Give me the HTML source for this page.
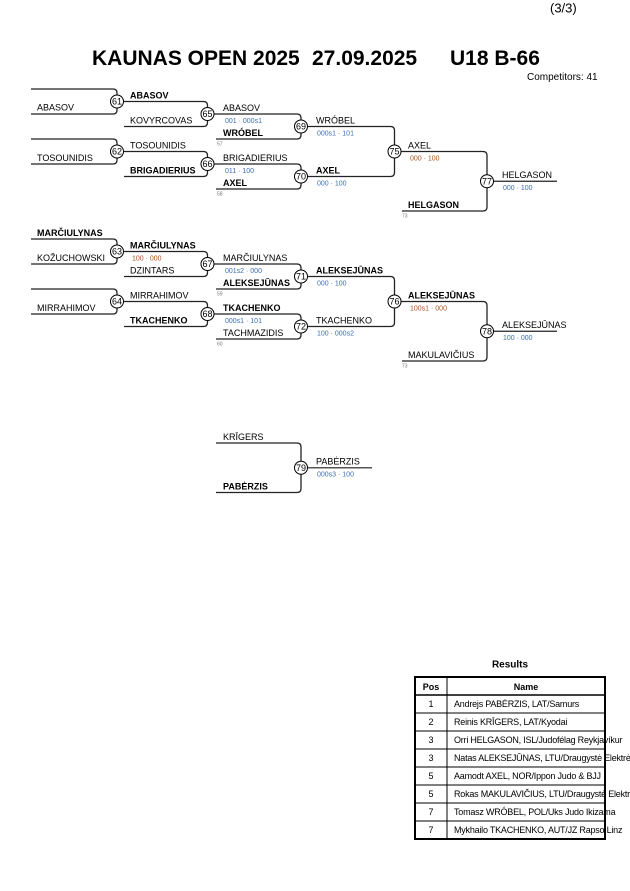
<!DOCTYPE html>
<html><head><meta charset="utf-8"><style>
html,body{margin:0;padding:0;background:#fff;}
body{width:630px;height:891px;overflow:hidden;}
svg{display:block;font-family:"Liberation Sans",Arial,sans-serif;}
.n{font-size:9px;fill:#000;}
.b{font-size:9px;font-weight:bold;fill:#000;}
.s{font-size:7px;}
.bl{fill:#3b6eb5;}
.br{fill:#a5531f;}
.sm{font-size:5px;fill:#777;}
.c{font-size:9px;fill:#000;text-anchor:middle;}
.ln{fill:none;stroke:#222;stroke-width:1.3;}
.t{font-size:9px;letter-spacing:-0.22px;fill:#000;}
</style></head><body>
<svg width="630" height="891" viewBox="0 0 630 891" xmlns="http://www.w3.org/2000/svg">
<!-- header -->
<text x="550" y="12.5" font-size="13" fill="#000">(3/3)</text>
<text x="92" y="65" font-size="21" font-weight="bold" fill="#000">KAUNAS OPEN 2025</text>
<text x="312" y="65" font-size="21" font-weight="bold" fill="#000">27.09.2025</text>
<text x="450" y="65" font-size="21" font-weight="bold" fill="#000">U18 B-66</text>
<text x="527" y="80" font-size="10" fill="#000">Competitors: 41</text>

<!-- bracket lines -->
<g class="ln">
<path d="M31 89 H113 Q117 89 117 93 V110 Q117 114 113 114 H31"/>
<path d="M123.5 101.5 H203.5 Q207.5 101.5 207.5 105.5 V122.5 Q207.5 126.5 203.5 126.5 H124"/>
<path d="M214 114 H297 Q301 114 301 118 V135 Q301 139 297 139 H216"/>
<path d="M31 139 H113 Q117 139 117 143 V160 Q117 164 113 164 H31"/>
<path d="M123.5 151.5 H203.5 Q207.5 151.5 207.5 155.5 V172.5 Q207.5 176.5 203.5 176.5 H124"/>
<path d="M214 164 H297 Q301 164 301 168 V185 Q301 189 297 189 H216"/>
<path d="M307.5 126.5 H390.5 Q394.5 126.5 394.5 130.5 V172.5 Q394.5 176.5 390.5 176.5 H307.5"/>
<path d="M401 151.5 H483 Q487 151.5 487 155.5 V207 Q487 211 483 211 H402"/>
<path d="M493.5 181.25 H557"/>

<path d="M31 239 H113 Q117 239 117 243 V260 Q117 264 113 264 H31"/>
<path d="M123.5 251.5 H203.5 Q207.5 251.5 207.5 255.5 V272.5 Q207.5 276.5 203.5 276.5 H124"/>
<path d="M214 264 H297 Q301 264 301 268 V285 Q301 289 297 289 H216"/>
<path d="M31 289 H113 Q117 289 117 293 V310 Q117 314 113 314 H31"/>
<path d="M123.5 301.5 H203.5 Q207.5 301.5 207.5 305.5 V322.5 Q207.5 326.5 203.5 326.5 H124"/>
<path d="M214 314 H297 Q301 314 301 318 V335 Q301 339 297 339 H216"/>
<path d="M307.5 276.5 H390.5 Q394.5 276.5 394.5 280.5 V322.5 Q394.5 326.5 390.5 326.5 H307.5"/>
<path d="M401 301.5 H483 Q487 301.5 487 305.5 V357 Q487 361 483 361 H402"/>
<path d="M493.5 331.25 H557"/>

<path d="M216 443 H297 Q301 443 301 447 V488.5 Q301 492.5 297 492.5 H216"/>
<path d="M307.5 467.75 H372" stroke="#555" stroke-width="1.6"/>
</g>

<!-- circles -->
<g fill="#fff" stroke="#000" stroke-width="1">
<circle cx="117" cy="101.5" r="6.5"/>
<circle cx="207.5" cy="114" r="6.5"/>
<circle cx="301" cy="126.5" r="6.5"/>
<circle cx="117" cy="151.5" r="6.5"/>
<circle cx="207.5" cy="164" r="6.5"/>
<circle cx="301" cy="176.5" r="6.5"/>
<circle cx="394.5" cy="151.5" r="6.5"/>
<circle cx="487" cy="181.25" r="6.5"/>
<circle cx="117" cy="251.5" r="6.5"/>
<circle cx="207.5" cy="264" r="6.5"/>
<circle cx="301" cy="276.5" r="6.5"/>
<circle cx="117" cy="301.5" r="6.5"/>
<circle cx="207.5" cy="314" r="6.5"/>
<circle cx="301" cy="326.5" r="6.5"/>
<circle cx="394.5" cy="301.5" r="6.5"/>
<circle cx="487" cy="331.25" r="6.5"/>
<circle cx="301" cy="467.75" r="6.5"/>
</g>
<g>
<text class="c" x="117" y="104.7">61</text>
<text class="c" x="207.5" y="117.2">65</text>
<text class="c" x="301" y="129.7">69</text>
<text class="c" x="117" y="154.7">62</text>
<text class="c" x="207.5" y="167.2">66</text>
<text class="c" x="301" y="179.7">70</text>
<text class="c" x="394.5" y="154.7">75</text>
<text class="c" x="487" y="184.5">77</text>
<text class="c" x="117" y="254.7">63</text>
<text class="c" x="207.5" y="267.2">67</text>
<text class="c" x="301" y="279.7">71</text>
<text class="c" x="117" y="304.7">64</text>
<text class="c" x="207.5" y="317.2">68</text>
<text class="c" x="301" y="329.7">72</text>
<text class="c" x="394.5" y="304.7">76</text>
<text class="c" x="487" y="334.5">78</text>
<text class="c" x="301" y="471">79</text>
</g>

<!-- names block 1 -->
<text class="n" x="37" y="110.5">ABASOV</text>
<text class="b" x="130" y="98.5">ABASOV</text>
<text class="n" x="130" y="123.5">KOVYRCOVAS</text>
<text class="n" x="223" y="111">ABASOV</text>
<text class="s bl" x="225" y="123">001 · 000s1</text>
<text class="b" x="223" y="136">WRÓBEL</text>
<text class="sm" x="217" y="145.5">57</text>
<text class="n" x="37" y="161">TOSOUNIDIS</text>
<text class="n" x="130" y="148.5">TOSOUNIDIS</text>
<text class="b" x="130" y="173.5">BRIGADIERIUS</text>
<text class="n" x="223" y="161">BRIGADIERIUS</text>
<text class="s bl" x="225" y="173">011 · 100</text>
<text class="b" x="223" y="186">AXEL</text>
<text class="sm" x="217" y="195.5">58</text>
<text class="n" x="316" y="123.5">WRÓBEL</text>
<text class="s bl" x="317" y="135.5">000s1 · 101</text>
<text class="b" x="316" y="173.5">AXEL</text>
<text class="s bl" x="317" y="185.5">000 · 100</text>
<text class="n" x="408" y="148.5">AXEL</text>
<text class="s br" x="410" y="160.5">000 · 100</text>
<text class="b" x="408" y="208">HELGASON</text>
<text class="sm" x="402" y="217.5">73</text>
<text class="n" x="502" y="178">HELGASON</text>
<text class="s bl" x="503" y="190">000 · 100</text>

<!-- names block 2 -->
<text class="b" x="37" y="236">MARČIULYNAS</text>
<text class="n" x="37" y="261">KOŽUCHOWSKI</text>
<text class="b" x="130" y="248.5">MARČIULYNAS</text>
<text class="s br" x="132" y="260.5">100 · 000</text>
<text class="n" x="130" y="273.5">DZINTARS</text>
<text class="n" x="223" y="261">MARČIULYNAS</text>
<text class="s bl" x="225" y="273">001s2 · 000</text>
<text class="b" x="223" y="286">ALEKSEJŪNAS</text>
<text class="sm" x="217" y="295.5">59</text>
<text class="n" x="37" y="311">MIRRAHIMOV</text>
<text class="n" x="130" y="298.5">MIRRAHIMOV</text>
<text class="b" x="130" y="323.5">TKACHENKO</text>
<text class="b" x="223" y="311">TKACHENKO</text>
<text class="s bl" x="225" y="323">000s1 · 101</text>
<text class="n" x="223" y="336">TACHMAZIDIS</text>
<text class="sm" x="217" y="345.5">60</text>
<text class="b" x="316" y="273.5">ALEKSEJŪNAS</text>
<text class="s bl" x="317" y="285.5">000 · 100</text>
<text class="n" x="316" y="323.5">TKACHENKO</text>
<text class="s bl" x="317" y="335.5">100 · 000s2</text>
<text class="b" x="408" y="298.5">ALEKSEJŪNAS</text>
<text class="s br" x="410" y="310.5">100s1 · 000</text>
<text class="n" x="408" y="358">MAKULAVIČIUS</text>
<text class="sm" x="402" y="367.5">73</text>
<text class="n" x="502" y="328">ALEKSEJŪNAS</text>
<text class="s bl" x="503" y="340">100 · 000</text>

<!-- block 3 -->
<text class="n" x="223" y="440">KRĪGERS</text>
<text class="b" x="223" y="489.5">PABĖRZIS</text>
<text class="n" x="316" y="464.5">PABĖRZIS</text>
<text class="s bl" x="317" y="476.5">000s3 · 100</text>

<!-- results -->
<text x="510" y="667.5" font-size="10" font-weight="bold" text-anchor="middle" fill="#000">Results</text>
<g stroke="#000" fill="none">
<line x1="415" y1="713" x2="605" y2="713" stroke-width="1"/>
<line x1="415" y1="731" x2="605" y2="731" stroke-width="1"/>
<line x1="415" y1="749" x2="605" y2="749" stroke-width="1"/>
<line x1="415" y1="767" x2="605" y2="767" stroke-width="1"/>
<line x1="415" y1="785" x2="605" y2="785" stroke-width="1"/>
<line x1="415" y1="803" x2="605" y2="803" stroke-width="1"/>
<line x1="415" y1="821" x2="605" y2="821" stroke-width="1"/>
<line x1="447" y1="677" x2="447" y2="839" stroke-width="1"/>
<line x1="415" y1="695" x2="605" y2="695" stroke-width="1.5"/>
<rect x="415" y="677" width="190" height="162" stroke-width="2"/>
</g>
<text x="431" y="690" font-size="9" font-weight="bold" text-anchor="middle" fill="#000">Pos</text>
<text x="526" y="690" font-size="9" font-weight="bold" text-anchor="middle" fill="#000">Name</text>
<g font-size="9" fill="#000" text-anchor="middle">
<text x="431" y="707.2">1</text>
<text x="431" y="725.2">2</text>
<text x="431" y="743.2">3</text>
<text x="431" y="761.2">3</text>
<text x="431" y="779.2">5</text>
<text x="431" y="797.2">5</text>
<text x="431" y="815.2">7</text>
<text x="431" y="833.2">7</text>
</g>
<text class="t" x="454" y="707.2">Andrejs PABĖRZIS, LAT/Samurs</text>
<text class="t" x="454" y="725.2">Reinis KRĪGERS, LAT/Kyodai</text>
<text class="t" x="454" y="743.2">Orri HELGASON, ISL/Judofélag Reykjavíkur</text>
<text class="t" x="454" y="761.2">Natas ALEKSEJŪNAS, LTU/Draugystė Elektrėnai</text>
<text class="t" x="454" y="779.2">Aamodt AXEL, NOR/Ippon Judo &amp; BJJ</text>
<text class="t" x="454" y="797.2">Rokas MAKULAVIČIUS, LTU/Draugystė Elektrėnai</text>
<text class="t" x="454" y="815.2">Tomasz WRÓBEL, POL/Uks Judo Ikizama</text>
<text class="t" x="454" y="833.2">Mykhailo TKACHENKO, AUT/JZ Rapso Linz</text>
</svg>
</body></html>
